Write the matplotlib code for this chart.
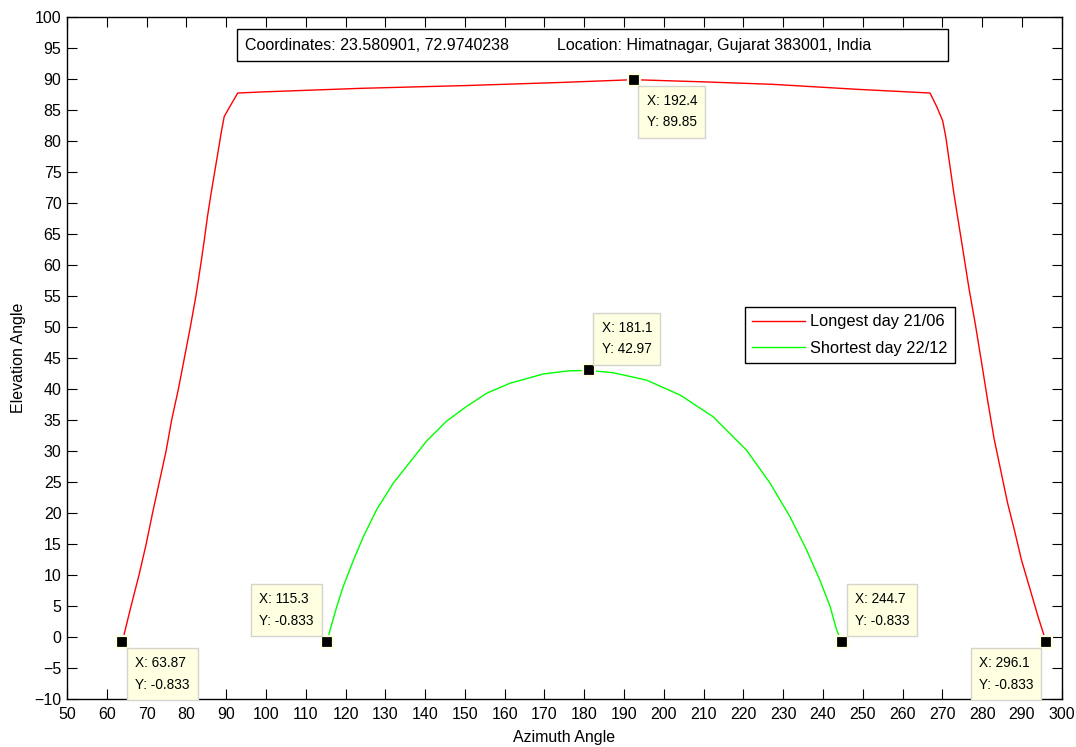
import matplotlib
matplotlib.use("Agg")
import matplotlib.pyplot as plt
from matplotlib.patches import Rectangle

# ── Data ──────────────────────────────────────────────────────────────────────
# Longest day 21/06 – azimuth vs elevation
long_az = [63.87, 66.1, 68.1, 69.9, 71.5, 73.2, 74.9, 76.3, 78.0, 79.5,
           81.0, 82.4, 83.6, 84.5, 85.3, 86.2, 87.9, 88.8, 89.5, 91.0, 92.9,
           100.0, 123.6, 150.0, 174.0, 192.4, 210.0, 227.4, 248.5,
           266.9, 268.6, 270.1, 270.9, 271.9, 272.9, 273.9, 275.0, 276.7,
           278.3, 279.9, 281.5, 283.0, 284.5, 286.4, 288.2, 289.9, 292.0,
           294.1, 296.1]
long_el = [-0.833, 5.0, 10.0, 15.0, 20.0, 25.0, 30.0, 35.0, 40.0, 45.0,
           50.0, 55.0, 60.0, 64.0, 67.8, 71.5, 78.0, 81.5, 83.9, 85.6, 87.7,
           87.9, 88.45, 88.9, 89.4, 89.85, 89.5, 89.1, 88.3,
           87.7, 85.5, 83.2, 80.5, 76.0, 71.5, 67.5, 63.1, 56.2,
           50.4, 44.1, 37.7, 32.0, 27.4, 21.6, 17.0, 12.4, 7.8,
           3.2, -0.833]

# Shortest day 22/12
short_az = [115.3, 116.1, 117.8, 119.4, 122.0, 124.5, 127.8, 132.0, 136.2,
            140.4, 145.4, 150.5, 155.5, 161.3, 169.7, 176.0, 181.1, 187.3,
            195.7, 204.1, 212.4, 220.8, 226.7, 231.7, 235.9, 239.2, 241.8,
            243.4, 244.7]
short_el = [-0.833, 1.1, 4.9, 8.1, 12.4, 16.2, 20.5, 24.8, 28.2,
            31.6, 34.8, 37.2, 39.3, 40.9, 42.4, 42.9, 42.97, 42.6,
            41.4, 39.0, 35.5, 30.1, 24.8, 19.4, 14.0, 9.2, 4.9,
            1.2, -0.833]

# data tips
tip_x = [63.87, 115.3, 244.7, 296.1, 192.4, 181.1]
tip_y = [-0.833, -0.833, -0.833, -0.833, 89.85, 42.97]
tip_labels = ["X: 63.87\nY: -0.833", "X: 115.3\nY: -0.833",
              "X: 244.7\nY: -0.833", "X: 296.1\nY: -0.833",
              "X: 192.4\nY: 89.85", "X: 181.1\nY: 42.97"]
# which side of the point each tip box sits on (dx sign, dy sign)
tip_side = [(1, -1), (-1, 1), (1, 1), (-1, -1), (1, -1), (1, 1)]

x_ticks = list(range(50, 301, 10))
y_ticks = list(range(-10, 101, 5))

# ── Style ─────────────────────────────────────────────────────────────────────
plt.rcParams["font.family"] = ["Liberation Sans", "DejaVu Sans"]
TIP_FC = "#ffffe1"
TIP_EC = "#d4d4cc"

fig = plt.figure(figsize=(10.76, 7.47), dpi=100, facecolor="white")
ax = fig.add_axes([0.0623, 0.0643, 0.9244, 0.9133])

ax.plot(long_az, long_el, color="#ff0000", lw=1.0, label="Longest day 21/06")
ax.plot(short_az, short_el, color="#00ff00", lw=1.0, label="Shortest day 22/12")

ax.set_xlim(50, 300)
ax.set_ylim(-10, 100)
ax.set_xticks(x_ticks)
ax.set_yticks(y_ticks)
ax.tick_params(direction="in", top=True, right=True, length=7, width=0.8,
               labelsize=11.5, colors="black")
ax.tick_params(axis="x", pad=6)
ax.tick_params(axis="y", pad=4)
for s in ax.spines.values():
    s.set_linewidth(1.0)

ax.set_xlabel("Azimuth Angle", fontsize=11.5)
ax.set_ylabel("Elevation Angle", fontsize=11.5)
ax.xaxis.set_label_coords(0.5, -0.046)
ax.yaxis.set_label_coords(-0.041, 0.5)

# data tip markers + boxes
ax.plot(tip_x, tip_y, ls="none", marker="s", ms=8, mfc="black",
        mec=TIP_FC, mew=1.6, zorder=5)
for x, y, txt, (sx, sy) in zip(tip_x, tip_y, tip_labels, tip_side):
    ax.annotate(txt, xy=(x, y), xytext=(sx * 13, sy * 14),
                textcoords="offset pixels",
                ha="left" if sx > 0 else "right",
                va="top" if sy < 0 else "bottom",
                multialignment="left",
                fontsize=9.8, linespacing=1.7, zorder=6,
                bbox=dict(boxstyle="square,pad=0.6", fc=TIP_FC, ec=TIP_EC,
                          lw=1.0))

# title annotation box
ax.add_patch(Rectangle((0.1709, 0.9346), 0.7151, 0.0478, transform=ax.transAxes,
                       fc="white", ec="black", lw=1.0, zorder=4))
ax.text(0.179, 0.9585, "Coordinates: 23.580901, 72.9740238",
        transform=ax.transAxes, fontsize=11.5, va="center", zorder=5)
ax.text(0.4926, 0.9585, "Location: Himatnagar, Gujarat 383001, India",
        transform=ax.transAxes, fontsize=11.5, va="center", zorder=5)

leg = ax.legend(loc="upper left", bbox_to_anchor=(0.6816, 0.5745),
                borderaxespad=0, fontsize=11.8, fancybox=False,
                edgecolor="black", framealpha=1, handlelength=3.2,
                handletextpad=0.3, labelspacing=0.7, borderpad=0.45)
leg.get_frame().set_linewidth(1.0)

plt.savefig("out.png", dpi=100, facecolor="white")
